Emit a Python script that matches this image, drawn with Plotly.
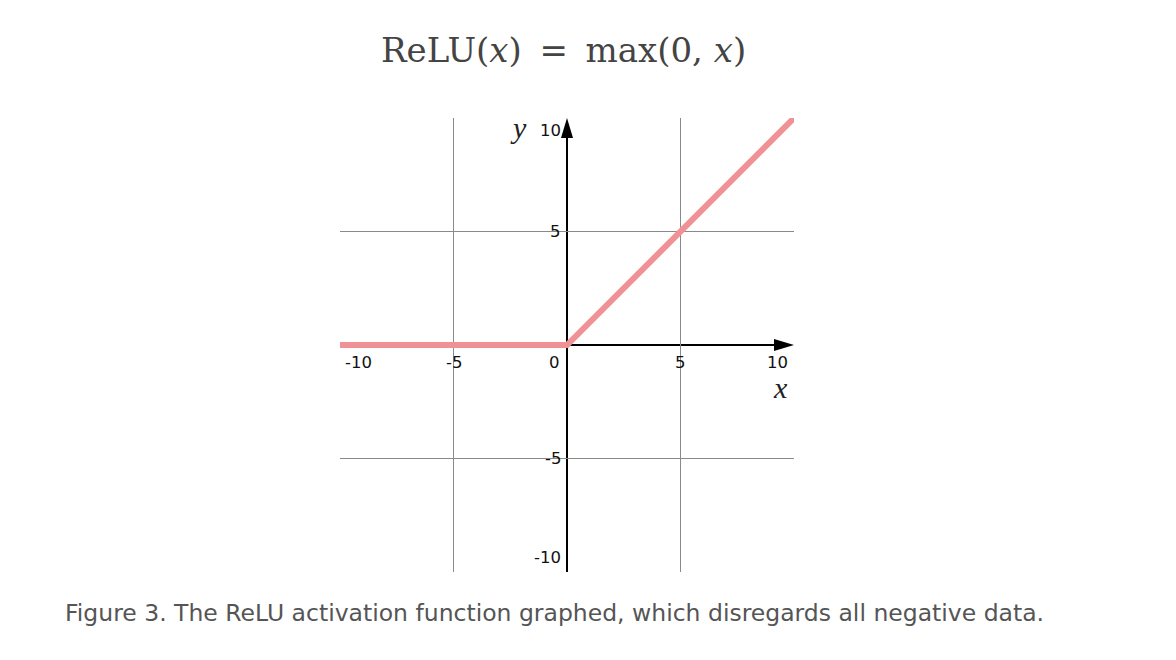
import plotly.graph_objects as go

# ---- data ----
x_vals = [-10, 0, 10]
relu_vals = [0, 0, 10]
tick_vals = [-10, -5, 0, 5, 10]
tick_labels = ["-10", "-5", "0", "5", "10"]
grid_vals = [-5, 5]
title_text = "ReLU(<i>x</i>)&#8201; = &#8201;max(0, <i>x</i>)"
caption_text = "Figure 3. The ReLU activation function graphed, which disregards all negative data."

OFF = 8  # page body margin
W, H = 1176 - OFF, 660 - OFF
L, T = 340 - OFF, 118 - OFF
pw, ph = 454, 454
R, B = W - L - pw, H - T - ph
ux = 20 / pw  # data units per px (x)
uy = 20 / ph

line_color = "#F09196"
fig = go.Figure()

fig.add_trace(go.Scatter(x=x_vals, y=relu_vals, mode="lines",
                         line=dict(color=line_color, width=6), hoverinfo="skip"))
fig.add_trace(go.Scatter(x=[x_vals[0], x_vals[-1]], y=[relu_vals[0], relu_vals[-1]], mode="markers",
                         marker=dict(color=line_color, size=6, line=dict(width=0)), hoverinfo="skip"))

shapes = []
# axes lines
shapes.append(dict(type="line", xref="x", yref="y", x0=0, x1=10 - 18 * ux, y0=0, y1=0,
                   line=dict(color="black", width=2), layer="below"))
shapes.append(dict(type="line", xref="x", yref="y", x0=0, x1=0, y0=-10, y1=10 - 16 * uy,
                   line=dict(color="black", width=2), layer="below"))
# arrowheads
al, aw = 20, 6
shapes.append(dict(type="path", xref="x", yref="y",
                   path=f"M {10} 0 L {10 - al*ux} {aw*uy} L {10 - al*ux} {-aw*uy} Z",
                   fillcolor="black", line=dict(width=0)))
shapes.append(dict(type="path", xref="x", yref="y",
                   path=f"M 0 {10} L {aw*ux} {10 - al*uy} L {-aw*ux} {10 - al*uy} Z",
                   fillcolor="black", line=dict(width=0)))
# grid lines
for g in grid_vals:
    shapes.append(dict(type="line", xref="x", yref="y", x0=g, x1=g, y0=-10, y1=10,
                       line=dict(color="#8a8a8a", width=1), layer="below"))
    shapes.append(dict(type="line", xref="x", yref="y", x0=-10, x1=10, y0=g, y1=g,
                       line=dict(color="#8a8a8a", width=1), layer="below"))

ann = []
sans = "DejaVu Sans, sans-serif"
tick_font = dict(family=sans, size=16.5, color="#111")
# x tick labels
for v, lab in zip(tick_vals, tick_labels):
    if v == -10:
        a = dict(x=v, xanchor="left", xshift=3)
    elif v == 10:
        a = dict(x=v, xanchor="right", xshift=-4)
    elif v == 0:
        a = dict(x=v, xanchor="right", xshift=-5)
    else:
        a = dict(x=v, xanchor="center", xshift=0)
    a.update(y=0, yanchor="middle", yshift=-17, text=lab, showarrow=False, font=tick_font,
             xref="x", yref="y")
    ann.append(a)
# y tick labels
for v, lab in zip(tick_vals, tick_labels):
    if v == 0:
        continue
    ys = {10: -12, -10: 15}.get(v, 0)
    ann.append(dict(x=0, xanchor="right", xshift=-4, y=v, yanchor="middle", yshift=ys,
                    text=lab, showarrow=False, font=tick_font, xref="x", yref="y"))
# axis names
serif = "Liberation Serif, DejaVu Serif, serif"
ann.append(dict(x=0, y=10, xref="x", yref="y", xshift=-49, yshift=-9, text="<i>y</i>",
                showarrow=False, font=dict(family=serif, size=30, color="#222")))
ann.append(dict(x=10, y=0, xref="x", yref="y", xshift=-14, yshift=-42, text="<i>x</i>",
                showarrow=False, font=dict(family=serif, size=30, color="#222")))
# title
ann.append(dict(x=(563 - 340) / pw, y=(572 - 50) / ph, xref="paper", yref="paper",
                xanchor="center", yanchor="middle", text=title_text, showarrow=False,
                font=dict(family="DejaVu Serif, serif", size=34, color="#444")))
# caption
ann.append(dict(x=(63 - 340) / pw, y=(572 - 613) / ph, xref="paper", yref="paper",
                xanchor="left", yanchor="middle", text=caption_text, showarrow=False,
                font=dict(family=sans, size=23.5, color="#555")))

fig.update_layout(
    width=W, height=H, margin=dict(l=L, r=R, t=T, b=B),
    paper_bgcolor="white", plot_bgcolor="white", showlegend=False,
    xaxis=dict(range=[-10, 10], showgrid=False, zeroline=False, showticklabels=False,
               showline=False, fixedrange=True),
    yaxis=dict(range=[-10, 10], showgrid=False, zeroline=False, showticklabels=False,
               showline=False, fixedrange=True),
    shapes=shapes, annotations=ann,
)
fig.write_html("out.html")
